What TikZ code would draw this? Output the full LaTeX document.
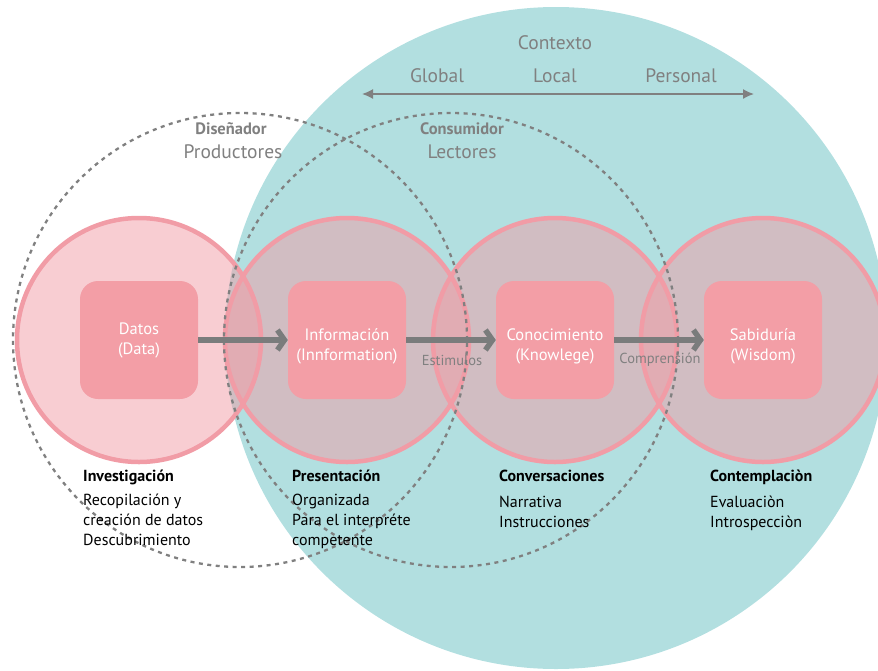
\documentclass[tikz,border=0pt]{standalone}
\usepackage{fontspec}
\setmainfont{PT Sans}
\usetikzlibrary{arrows.meta,positioning}
\definecolor{ctxteal}{RGB}{178,223,224}
\definecolor{ringpink}{RGB}{241,156,166}
\definecolor{boxpink}{RGB}{243,158,166}
\definecolor{flowgray}{RGB}{122,124,124}
\definecolor{labelgray}{RGB}{128,128,128}
\newcommand{\lowline}[1]{\raisebox{-6pt}[\height][\depth]{#1}}
\begin{document}
\begin{tikzpicture}
      [x=1pt,y=-1pt,
      ring/.style={circle,draw=ringpink,line width=4.5pt,fill=ringpink,
        fill opacity=0.5,draw opacity=1,minimum size=244pt,inner sep=0pt},
      dashring/.style={circle,draw=labelgray,line width=2.3pt,
        dash pattern=on 4pt off 4.5pt,minimum size=454pt,inner sep=0pt},
      stage/.style={rounded corners=18pt,fill=boxpink,minimum size=118pt,
        inner sep=0pt,text=white,align=center,font=\fontsize{16.5}{20}\selectfont},
      flow/.style={draw=flowgray,line width=5.5pt,
        -{Straight Barb[length=7pt,width=20pt]}},
      gray label/.style={text=labelgray,font=\fontsize{19.5}{22}\selectfont},
      bold label/.style={text=labelgray,font=\fontsize{16.5}{18}\selectfont\bfseries},
      small label/.style={text=labelgray,font=\fontsize{14.5}{16}\selectfont},
      desc/.style={anchor=north west,align=left,inner sep=0pt,
        font=\fontsize{16}{20}\selectfont}]
      \useasboundingbox (0,0) rectangle (878,670);
      \clip (0,0) rectangle (878,670);
      % contexto
      \fill[ctxteal] (556,338) circle[radius=331pt];
      \node[gray label] (contexto) at (555,43) {Contexto};
      \node[gray label] (global) at (437,76) {Global};
      \node[gray label] (local) at (555,76) {Local};
      \node[gray label] (personal) at (681,76) {Personal};
      \coordinate (ctxL) at (362,94);
      \coordinate (ctxR) at (754,94);
      \draw[labelgray,line width=1.6pt,{Latex[length=11pt,width=10pt]}-{Latex[length=11pt,width=10pt]}]
        (ctxL) -- (ctxR);
      % circulos
      \node[ring] (c1) at (139,340) {};
      \node[ring] (c2) at (347,340) {};
      \node[ring] (c3) at (555,340) {};
      \node[ring] (c4) at (763,340) {};
      \node[dashring] (disenador) at (240,340) {};
      \node[dashring] (consumidor) at (451,340) {};
      \node[bold label] (dis) at (231,129) {Diseñador};
      \node[gray label] (prod) at (233,152) {Productores};
      \node[bold label] (con) at (462,129) {Consumidor};
      \node[gray label] (lect) at (462,152) {Lectores};
      % etapas
      \node[stage] (datos) at (c1) {Datos\\(Data)};
      \node[stage] (info) at (c2) {\lowline{Información}\\\lowline{(Innformation)}};
      \node[stage] (conoc) at (c3) {\lowline{Conocimiento}\\\lowline{(Knowlege)}};
      \node[stage] (sabid) at (c4) {\lowline{Sabiduría}\\\lowline{(Wisdom)}};
      \draw[flow] (datos) -- (info);
      \draw[flow] (info) -- (conoc);
      \draw[flow] (conoc) -- (sabid);
      \node[small label] (estim) at (452,360) {Estimulos};
      \node[small label] (compr) at (660,360) {Comprensión};
      % descripciones
      \node[desc] (inv) at (83,470) {\textbf{Investigación}\\[4pt]
        Recopilación y\\creación de datos\\Descubrimiento};
      \node[desc] (pres) at (292,470) {\textbf{Presentación}\\[4pt]
        Organizada\\Para el interpréte\\competente};
      \node[desc] (conv) at (499,470) {\textbf{Conversaciones}\\[6pt]
        Narrativa\\Instrucciones};
      \node[desc] (cont) at (710,470) {\textbf{Contemplaciòn}\\[6pt]
        Evaluaciòn\\Introspecciòn};
    \end{tikzpicture}
\end{document}
